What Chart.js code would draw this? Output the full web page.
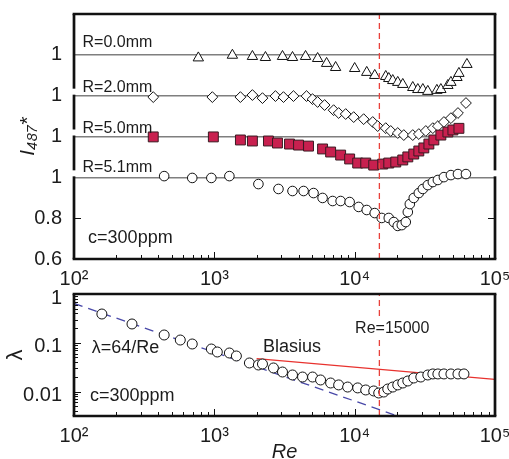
<!DOCTYPE html>
<html><head><meta charset="utf-8">
<script src="https://cdn.jsdelivr.net/npm/chart.js@4/dist/chart.umd.min.js"></script>
<style>
html,body{margin:0;padding:0;background:#fff;overflow:hidden;width:509px;height:459px;position:relative}
#c1{position:absolute;left:0;top:0}
#c2{position:absolute;left:0;top:282px}
</style></head><body>
<canvas id="c1" width="509" height="290"></canvas>
<canvas id="c2" width="509" height="188"></canvas>
<script>
// ---------------- data ----------------
const xTickValues = [100, 1000, 10000, 100000];
const xTickLabels = ['10²', '10³', '10⁴', '10⁵'];
const topTickValues = [0.6, 0.8, 1.0, 1.2, 1.4, 1.6];
const topTickLabels = ['0.6', '0.8', '1', '1', '1', '1'];
const lamTickValues = [0.01, 0.1, 1];
const lamTickLabels = ['0.01', '0.1', '1'];
const seriesNames = ['R=0.0mm', 'R=2.0mm', 'R=5.0mm', 'R=5.1mm'];
const seriesOffsets = [0.6, 0.4, 0.2, 0.0];   // vertical stacking of the four panels
const reCritical = 15000;

const reR00 = [769, 1345, 1868, 2313, 3060, 3606, 4467, 5445, 6310, 7315, 10000, 12190, 13900, 16650, 17500, 18680, 20280, 22020, 25940, 28180, 30600, 33200, 38530, 41130, 46160, 48510, 53560, 55330, 63100];
const iR00  = [0.985, 0.998, 0.992, 0.987, 0.992, 0.987, 0.992, 0.982, 0.958, 0.938, 0.933, 0.914, 0.899, 0.894, 0.884, 0.874, 0.865, 0.855, 0.840, 0.830, 0.830, 0.821, 0.826, 0.830, 0.850, 0.865, 0.889, 0.909, 0.953];

const reR20 = [367, 968, 1534, 1868, 2203, 2727, 3110, 3664, 4540, 5012, 5445, 6105, 7080, 7690, 8630, 9840, 11590, 13450, 14590, 16650, 18070, 20280, 22390, 25940, 28650, 32140, 36060, 39170, 43250, 48510, 54450, 62090];
const iR20  = [0.993, 0.993, 0.993, 1.003, 0.988, 0.998, 0.993, 0.998, 0.998, 0.983, 0.969, 0.954, 0.929, 0.915, 0.910, 0.895, 0.885, 0.871, 0.851, 0.841, 0.827, 0.817, 0.807, 0.807, 0.812, 0.827, 0.841, 0.851, 0.871, 0.890, 0.915, 0.964];

const reR50 = [367, 984, 1534, 1868, 2430, 2818, 3433, 3981, 4690, 5907, 6740, 7943, 9210, 10510, 11990, 13670, 15850, 17500, 19630, 22020, 23920, 26370, 28650, 31110, 33790, 36680, 41130, 46160, 50120, 55330];
const iR50  = [0.998, 0.998, 0.983, 0.978, 0.978, 0.968, 0.963, 0.958, 0.953, 0.939, 0.924, 0.909, 0.890, 0.870, 0.870, 0.860, 0.865, 0.870, 0.875, 0.885, 0.900, 0.914, 0.929, 0.944, 0.963, 0.983, 1.007, 1.022, 1.032, 1.040];

const reR51 = [439, 696, 952, 1280, 2061, 2864, 3606, 4325, 5093, 5907, 6966, 7943, 9210, 10680, 12190, 13900, 15590, 17500, 19000, 20280, 21670, 23130, 23920, 24720, 26370, 28650, 30600, 33200, 36060, 39170, 43250, 48510, 54450, 62090];
const iR51  = [1.006, 0.997, 0.997, 1.006, 0.967, 0.943, 0.933, 0.933, 0.923, 0.899, 0.884, 0.884, 0.879, 0.855, 0.840, 0.825, 0.801, 0.801, 0.781, 0.762, 0.766, 0.781, 0.830, 0.869, 0.899, 0.923, 0.943, 0.962, 0.977, 0.987, 1.001, 1.011, 1.016, 1.016];

const reLambda = [158, 259, 439, 572, 696, 952, 1050, 1280, 1436, 1778, 2061, 2203, 2638, 3060, 3606, 4252, 5012, 5715, 6740, 7690, 8913, 10510, 11990, 13670, 14840, 16110, 17210, 18680, 20280, 22020, 23920, 26370, 29600, 33200, 36060, 39170, 43250, 48510, 54450, 60090];
const lambda   = [0.389, 0.243, 0.1445, 0.114, 0.0945, 0.0746, 0.0648, 0.0618, 0.0537, 0.0386, 0.0351, 0.0368, 0.0305, 0.0252, 0.0219, 0.0199, 0.0199, 0.0173, 0.0150, 0.0137, 0.0124, 0.0119, 0.0108, 0.0103, 0.00936, 0.0098, 0.0113, 0.0124, 0.0137, 0.0150, 0.0165, 0.0190, 0.0199, 0.0219, 0.0230, 0.0230, 0.0230, 0.0230, 0.0230, 0.0230];

const laminarRe = [100, 19600];
const laminarLambda = [0.64, 0.00327];
const blasiusRe = [2000, 100000];
const blasiusLambda = [0.0473, 0.0178];

// ---------------- style ----------------
const FONT = '"Liberation Sans", Arial, "DejaVu Sans", sans-serif';
const INK = '#1c1c1c';
const pts = (xs, ys, off) => xs.map((x, i) => ({ x: x, y: ys[i] + (off || 0) }));

function decadeMarks(min, max) {
  const out = [];
  for (let e = Math.floor(Math.log10(min)) - 1; e <= Math.ceil(Math.log10(max)); e++) {
    for (let m = 1; m <= 9; m++) {
      const v = m * Math.pow(10, e);
      if (v >= min * 0.999 && v <= max * 1.001) out.push({ v: v, major: m === 1 });
    }
  }
  return out;
}
function seg(ctx, x1, y1, x2, y2) { ctx.beginPath(); ctx.moveTo(x1, y1); ctx.lineTo(x2, y2); ctx.stroke(); }
function noPad(s) { s.paddingTop = 0; s.paddingBottom = 0; s.paddingLeft = 0; s.paddingRight = 0; }

function framePlugin(opts) {
  return {
    id: 'frame',
    afterDraw(chart) {
      const ctx = chart.ctx, a = chart.chartArea, x = chart.scales.x, y = chart.scales.y;
      ctx.save();
      ctx.strokeStyle = '#111';
      ctx.lineWidth = 1;
      decadeMarks(x.min, x.max).forEach(t => {
        const px = Math.round(x.getPixelForValue(t.v)) + 0.5;
        seg(ctx, px, a.bottom, px, a.bottom - (t.major ? 7 : 4));
      });
      opts.yMarks(y).forEach(t => {
        const py = Math.round(y.getPixelForValue(t.v)) + 0.5;
        const len = t.major ? 7 : 4;
        seg(ctx, a.left, py, a.left + len, py);
        if (opts.rightMarks) seg(ctx, a.right, py, a.right - len, py);
      });
      ctx.lineWidth = 2.7;
      const h = 1.35;
      seg(ctx, a.left - h, a.top, a.right + h, a.top);
      seg(ctx, a.left - h, a.bottom, a.right + h, a.bottom);
      const gaps = (opts.gapValues || []).map(v => y.getPixelForValue(v)).sort((p, q) => p - q);
      [a.left, a.right].forEach(px => {
        let start = a.top;
        gaps.forEach(g => { seg(ctx, px, start, px, g - 7); start = g - 1; });
        seg(ctx, px, start, px, a.bottom);
      });
      ctx.restore();
    }
  };
}

function notesPlugin(notes) {
  return {
    id: 'notes',
    afterDatasetsDraw(chart) {
      const ctx = chart.ctx, x = chart.scales.x, y = chart.scales.y;
      ctx.save();
      ctx.textAlign = 'left';
      ctx.textBaseline = 'alphabetic';
      notes.forEach(n => {
        ctx.font = n.size + 'px ' + FONT;
        const px = x.getPixelForValue(n.re), py = y.getPixelForValue(n.v);
        if (n.bg) {
          const w = ctx.measureText(n.text).width;
          ctx.fillStyle = '#fff';
          ctx.fillRect(px - 2, py - n.size * 0.85, w + 4, n.size * 1.05);
        }
        ctx.fillStyle = INK;
        ctx.fillText(n.text, px, py);
      });
      ctx.restore();
    }
  };
}

const xScaleBase = (height) => ({
  type: 'logarithmic', min: 100, max: 100000,
  afterBuildTicks: s => { s.ticks = xTickValues.map(v => ({ value: v })); },
  ticks: { callback: (v, i) => xTickLabels[i], font: { size: 20, family: FONT }, color: INK, padding: 8, maxRotation: 0, autoSkip: false },
  grid: { display: false, drawTicks: false },
  border: { display: false },
  afterFit: s => { s.height = height; noPad(s); }
});

// ---------------- top chart ----------------
const markerBase = { showLine: false, pointBorderColor: '#111', pointBackgroundColor: '#fff', pointBorderWidth: 1, pointHoverRadius: 0 };

new Chart(document.getElementById('c1'), {
  type: 'scatter',
  data: {
    datasets: [
      { label: 'Re=15000', data: [{ x: reCritical, y: 0.6 }, { x: reCritical, y: 1.8 }], showLine: true, pointRadius: 0, borderColor: '#e8413c', borderWidth: 1.3, borderDash: [6, 4] },
      Object.assign({ label: seriesNames[3], data: pts(reR51, iR51, seriesOffsets[3]), pointStyle: 'circle', pointRadius: 4.8 }, markerBase),
      Object.assign({}, markerBase, { label: seriesNames[2], data: pts(reR50, iR50, seriesOffsets[2]), pointStyle: 'rect', pointRadius: 7, pointBackgroundColor: '#c8204f', pointBorderColor: '#3a1a22' }),
      Object.assign({ label: seriesNames[1], data: pts(reR20, iR20, seriesOffsets[1]), pointStyle: 'rectRot', pointRadius: 5.4 }, markerBase),
      Object.assign({ label: seriesNames[0], data: pts(reR00, iR00, seriesOffsets[0]), pointStyle: 'triangle', pointRadius: 6 }, markerBase)
    ]
  },
  options: {
    responsive: false, animation: false, devicePixelRatio: 1,
    layout: { padding: { top: 14, right: 14, left: 0, bottom: 0 } },
    plugins: { legend: { display: false }, tooltip: { enabled: false } },
    scales: {
      x: xScaleBase(31),
      y: {
        type: 'linear', min: 0.6, max: 1.8,
        afterBuildTicks: s => { s.ticks = topTickValues.map(v => ({ value: v })); },
        ticks: { callback: (v, i) => topTickLabels[i], font: { size: 20, family: FONT }, color: INK, padding: 12 },
        grid: {
          drawTicks: false, lineWidth: 1.5,
          color: c => (c.tick && c.tick.value > 0.9 && c.tick.value < 1.7) ? '#7f7f7f' : 'rgba(0,0,0,0)'
        },
        border: { display: false },
        title: { display: true, text: 'I₄₈₇*', color: INK, font: { size: 21, style: 'italic', family: FONT }, padding: { top: 16, bottom: 0 } },
        afterFit: s => { s.width = 74; noPad(s); }
      }
    }
  },
  plugins: [
    framePlugin({ gapValues: [1.0, 1.2, 1.4], rightMarks: true, yMarks: () => [{ v: 0.8, major: true }] }),
    notesPlugin([
      { text: seriesNames[0], re: 115, v: 1.638, size: 16 },
      { text: seriesNames[1], re: 115, v: 1.418, size: 16 },
      { text: seriesNames[2], re: 115, v: 1.217, size: 16 },
      { text: seriesNames[3], re: 115, v: 1.026, size: 16 },
      { text: 'c=300ppm', re: 126, v: 0.678, size: 18 }
    ])
  ]
});

// ---------------- bottom chart ----------------
new Chart(document.getElementById('c2'), {
  type: 'scatter',
  data: {
    datasets: [
      { label: 'Re=15000', data: [{ x: reCritical, y: 0.0031623 }, { x: reCritical, y: 1 }], showLine: true, pointRadius: 0, borderColor: '#e8413c', borderWidth: 1.3, borderDash: [6, 4] },
      Object.assign({ label: 'λ', data: pts(reLambda, lambda), pointStyle: 'circle', pointRadius: 5 }, markerBase),
      { label: 'Blasius', data: pts(blasiusRe, blasiusLambda), showLine: true, pointRadius: 0, borderColor: '#e8322e', borderWidth: 1.2 },
      { label: 'λ=64/Re', data: pts(laminarRe, laminarLambda), showLine: true, pointRadius: 0, borderColor: '#4848a8', borderWidth: 1.3, borderDash: [9, 6] }
    ]
  },
  options: {
    responsive: false, animation: false, devicePixelRatio: 1,
    layout: { padding: { top: 12, right: 14, left: 0, bottom: 0 } },
    plugins: { legend: { display: false }, tooltip: { enabled: false } },
    scales: {
      x: Object.assign(xScaleBase(54), {
        title: { display: true, text: 'Re', color: INK, font: { size: 20, style: 'italic', family: FONT }, padding: { top: 0, bottom: 6 } }
      }),
      y: {
        type: 'logarithmic', min: 0.0031623, max: 1,
        afterBuildTicks: s => { s.ticks = lamTickValues.map(v => ({ value: v })); },
        ticks: { callback: (v, i) => lamTickLabels[i], font: { size: 20, family: FONT }, color: INK, padding: 12, labelOffset: 4 },
        grid: { display: false, drawTicks: false },
        border: { display: false },
        title: { display: true, text: 'λ', color: INK, font: { size: 22, family: FONT }, padding: { top: 3, bottom: 0 } },
        afterFit: s => { s.width = 74; noPad(s); }
      }
    }
  },
  plugins: [
    framePlugin({ yMarks: y => decadeMarks(y.min, y.max) }),
    notesPlugin([
      { text: 'λ=64/Re', re: 134, v: 0.0611, size: 18 },
      { text: 'c=300ppm', re: 130, v: 0.00629, size: 18 },
      { text: 'Blasius', re: 2223, v: 0.0641, size: 18 },
      { text: 'Re=15000', re: 10070, v: 0.1577, size: 16, bg: true }
    ])
  ]
});
</script>
</body></html>
